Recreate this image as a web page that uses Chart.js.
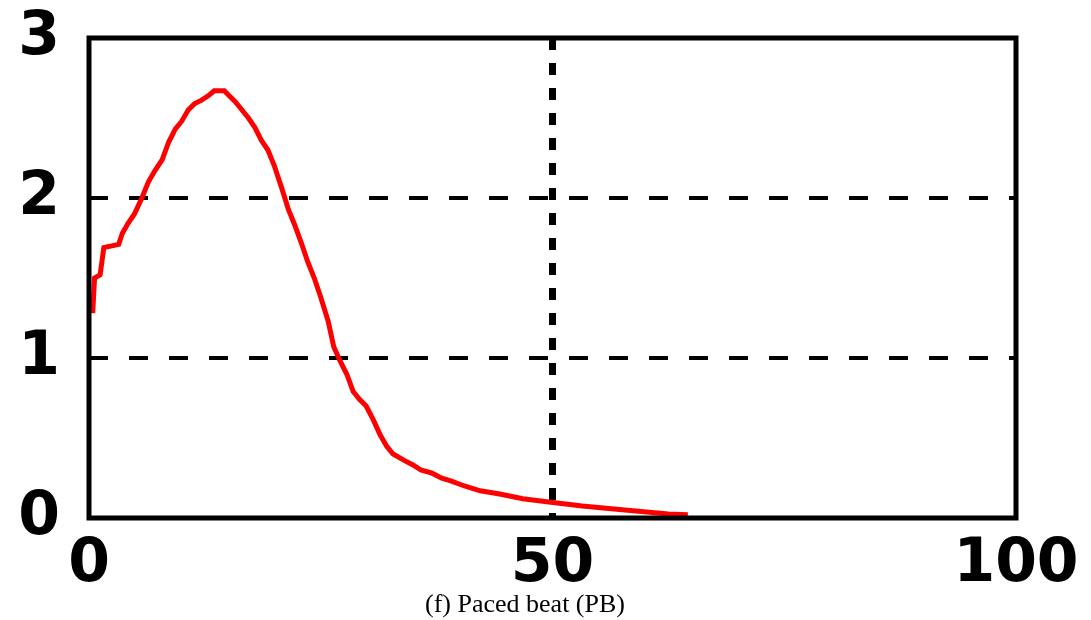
<!DOCTYPE html>
<html>
<head>
<meta charset="utf-8">
<script src="https://cdn.jsdelivr.net/npm/chart.js@4/dist/chart.umd.min.js"></script>
<style>
	html, body { margin: 0; padding: 0; background: #fff; }
	#wrap { position: relative; width: 1091px; height: 620px; }
	#legenda {
		position: absolute; left: 0; top: 589px; width: 1050px;
		text-align: center; font-family: 'Liberation Serif', serif; font-size: 26px; color: #000;
	}
</style>
</head>
<body>
<div id="wrap">
	<canvas id="graficoPB" width="1091" height="620"></canvas>
	<div id="legenda">(f) Paced beat (PB)</div>
</div>
<script>
// valores
var posicoes = [0.4, 0.6, 1.2, 1.6, 3.2, 3.6, 4.2, 4.9, 5.7, 6.4, 7.1, 7.9, 8.6, 9.3, 10.0, 10.7, 11.4, 12.1, 12.9, 13.5,
	14.6, 15.1, 15.8, 16.5, 17.2, 17.9, 18.6, 19.3, 20.0, 20.8, 21.5, 22.2, 22.9, 23.6, 24.3, 25.0, 25.8, 26.4, 27.1, 27.8,
	28.5, 29.2, 29.9, 30.7, 31.4, 32.1, 32.8, 34.0, 35.0, 35.8, 37.0, 38.0, 39.1, 40.5, 42.2, 44.3, 46.8, 49.6, 53.2, 57.8,
	62.5, 64.6];
var densidade = [1.28, 1.50, 1.52, 1.69, 1.71, 1.78, 1.84, 1.90, 2.00, 2.10, 2.17, 2.24, 2.35, 2.43, 2.48, 2.55, 2.59, 2.61, 2.64, 2.67,
	2.67, 2.64, 2.60, 2.55, 2.50, 2.44, 2.36, 2.30, 2.20, 2.06, 1.93, 1.83, 1.72, 1.60, 1.50, 1.38, 1.23, 1.07, 0.98, 0.90,
	0.79, 0.74, 0.70, 0.61, 0.52, 0.45, 0.40, 0.36, 0.33, 0.30, 0.28, 0.25, 0.23, 0.20, 0.17, 0.15, 0.12, 0.10, 0.075, 0.05,
	0.025, 0.02];
var ticksX = [0, 50, 100];
var ticksY = [0, 1, 2, 3];

var fonteEixo = { family: "'DejaVu Sans', sans-serif", size: 60, weight: 'bold' };

var pontos = posicoes.map(function(x, i) {
	return { x: x, y: densidade[i] };
});

var moldura = {
	id: 'moldura',
	afterDraw: function(chart) {
		var a = chart.chartArea;
		var ctx = chart.ctx;
		ctx.save();
		ctx.lineWidth = 5;
		ctx.strokeStyle = '#000';
		ctx.strokeRect(a.left, a.top, a.right - a.left, a.bottom - a.top);
		ctx.restore();
	}
};

new Chart(document.getElementById('graficoPB').getContext('2d'), {
	type: 'line',
	data: {
		datasets: [{
			data: pontos,
			borderColor: '#ff0000',
			borderWidth: 5,
			pointRadius: 0,
			tension: 0,
			fill: false
		}]
	},
	options: {
		responsive: false,
		animation: false,
		layout: { padding: { left: 0, top: 38, right: 75, bottom: 0 } },
		plugins: { legend: { display: false }, tooltip: { enabled: false } },
		scales: {
			x: {
				type: 'linear',
				min: 0,
				max: 100,
				afterBuildTicks: function(scale) {
					scale.ticks = ticksX.map(function(v) { return { value: v }; });
				},
				afterFit: function(scale) {
					scale.height = 102;
					scale.paddingLeft = 0;
					scale.paddingRight = 0;
				},
				border: { display: false, dash: [12, 13] },
				grid: {
					lineWidth: 7,
					drawTicks: false,
					color: function(ctx) { return ctx.tick && ctx.tick.value === 50 ? '#000' : 'rgba(0,0,0,0)'; }
				},
				ticks: { color: '#000', font: fonteEixo, padding: 11, maxRotation: 0 }
			},
			y: {
				min: 0,
				max: 3,
				afterBuildTicks: function(scale) {
					scale.ticks = ticksY.map(function(v) { return { value: v }; });
				},
				afterFit: function(scale) {
					scale.width = 89;
					scale.paddingTop = 0;
					scale.paddingBottom = 0;
				},
				border: { display: false, dash: [19, 21] },
				grid: {
					lineWidth: 4,
					drawTicks: false,
					color: function(ctx) {
						var v = ctx.tick ? ctx.tick.value : 0;
						return (v === 1 || v === 2) ? '#000' : 'rgba(0,0,0,0)';
					}
				},
				ticks: { color: '#000', font: fonteEixo, padding: 29 }
			}
		}
	},
	plugins: [moldura]
});
</script>
</body>
</html>
